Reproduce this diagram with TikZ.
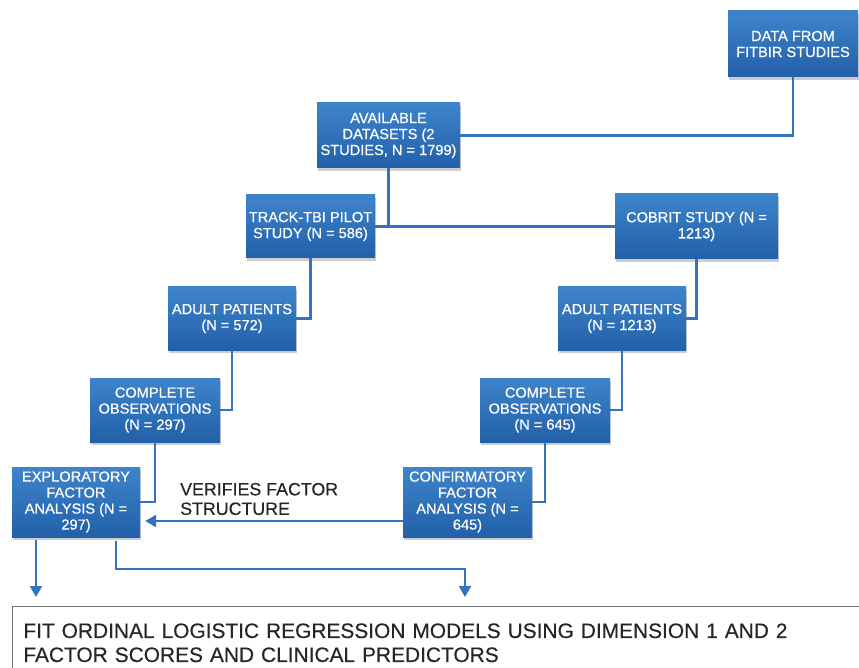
\documentclass[tikz,border=0pt]{standalone}
\usepackage{fontspec}
\setmainfont{Liberation Sans}
\newfontfamily\heavysans[FakeBold=0.6]{Liberation Sans}
\newfontfamily\midsans[FakeBold=0.35]{Liberation Sans}
\usetikzlibrary{arrows.meta,shadows}
\definecolor{boxtop}{RGB}{62,132,204}
\definecolor{boxbot}{RGB}{34,96,168}
\definecolor{linkc}{RGB}{50,114,190}
\begin{document}
\begin{tikzpicture}[x=1pt,y=-1pt,
  flowbox/.style={rectangle, top color=boxtop, bottom color=boxbot, draw=none, text=white, align=center, inner sep=0pt,
    font=\heavysans\fontsize{14.6}{16}\selectfont,
    drop shadow={shadow xshift=1pt, shadow yshift=-3pt, opacity=0.4}},
  link/.style={draw=linkc, line width=2.2pt},
  arr/.style={link, -{Triangle[length=11pt,width=12pt]}}]
\useasboundingbox (0,0) rectangle (859,668);
\fill[white] (0,0) rectangle (859,668);

\node[flowbox, minimum width=130pt, minimum height=66pt] (data) at (793,44) {DATA FROM\\FITBIR STUDIES};
\node[flowbox, minimum width=143pt, minimum height=65pt] (avail) at (388.5,135.5) {AVAILABLE\\DATASETS (2\\STUDIES, N = 1799)};
\node[flowbox, minimum width=129pt, minimum height=63pt] (track) at (310.5,226.5) {TRACK-TBI PILOT\\STUDY (N = 586)};
\node[flowbox, minimum width=163pt, minimum height=65pt] (cobrit) at (696.5,226.5) {COBRIT STUDY (N =\\1213)};
\node[flowbox, minimum width=128pt, minimum height=63pt] (adultL) at (232,318.5) {ADULT PATIENTS\\(N = 572)};
\node[flowbox, minimum width=128pt, minimum height=63pt] (adultR) at (622,318.5) {ADULT PATIENTS\\(N = 1213)};
\node[flowbox, minimum width=130pt, minimum height=64pt] (compL) at (155,410) {COMPLETE\\OBSERVATIONS\\(N = 297)};
\node[flowbox, minimum width=130pt, minimum height=64pt] (compR) at (545,410) {COMPLETE\\OBSERVATIONS\\(N = 645)};
\node[flowbox, minimum width=128pt, minimum height=70pt] (expl) at (76,502) {EXPLORATORY\\FACTOR\\ANALYSIS (N =\\297)};
\node[flowbox, minimum width=129pt, minimum height=70pt] (conf) at (467.5,502) {CONFIRMATORY\\FACTOR\\ANALYSIS (N =\\645)};

\node[anchor=west, align=left, text=black!85, inner sep=0pt, font=\midsans\fontsize{17.8}{19.5}\selectfont] (verif) at (180,499) {VERIFIES FACTOR\\STRUCTURE};

\node[draw=black!55, line width=0.8pt, anchor=north west, text width=840pt, align=left, inner xsep=11pt, inner ysep=17pt,
  text=black!85, font=\midsans\fontsize{20.9}{24}\selectfont] (fit) at (12,606)
  {FIT ORDINAL LOGISTIC REGRESSION MODELS USING DIMENSION 1 AND 2\\FACTOR SCORES AND CLINICAL PREDICTORS};

\draw[link] (data.south) |- (avail.east);
\draw[link] (avail.south) -- (avail.south |- track.east);
\draw[link] (track.east) -- (cobrit.west);
\draw[link] (track.south) |- (adultL.east);
\draw[link] (cobrit.south) |- (adultR.east);
\draw[link] (adultL.south) |- (compL.east);
\draw[link] (adultR.south) |- (compR.east);
\draw[link] (compL.south) |- (expl.east);
\draw[link] (compR.south) |- (conf.east);

\draw[arr, shorten >=5pt] ([yshift=-19pt]conf.west) -- ([yshift=-19pt]expl.east);

\coordinate (fa) at (36,606);
\coordinate (fb) at (465,606);
\draw[arr, shorten >=9pt, shorten <=3pt] (expl.south -| fa) -- (fa);
\draw[arr, shorten >=9pt, shorten <=4pt] ([xshift=40pt]expl.south) -- ++(0,32) -| (fb);
\end{tikzpicture}
\end{document}
